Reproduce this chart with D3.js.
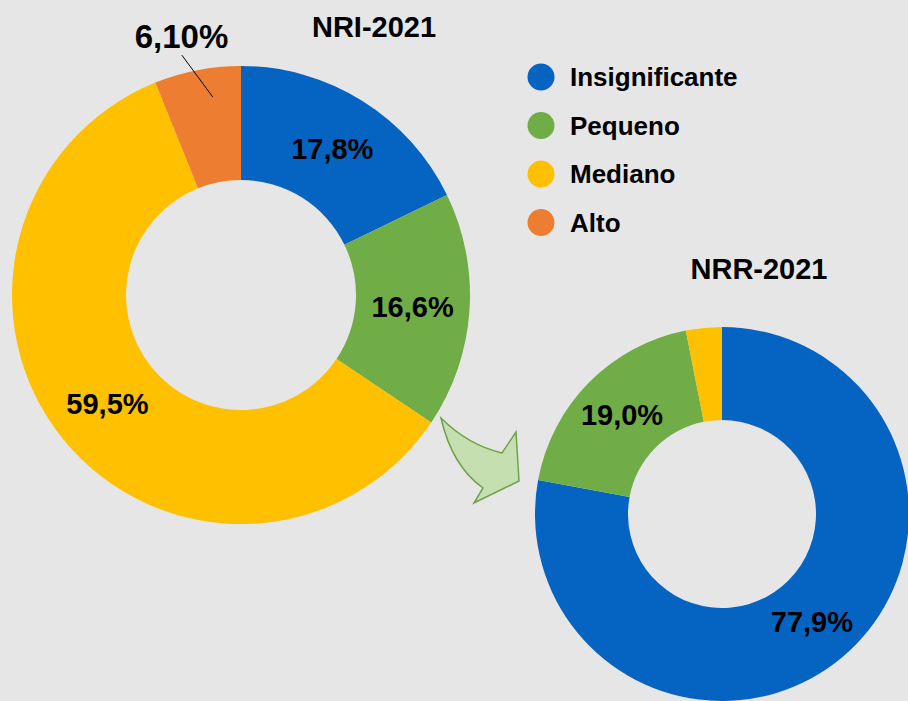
<html>
<head>
    <script src="https://d3js.org/d3.v7.min.js"></script>
</head>
<body style="margin:0; background:#e6e6e6;">

<div id="chart"></div>

<script>

// data
var categories = ["Insignificante", "Pequeno", "Mediano", "Alto"];
var nriValues = [17.8, 16.6, 59.5, 6.1];
var nriLabels = ["17,8%", "16,6%", "59,5%", "6,10%"];
var nrrValues = [77.9, 19.0, 3.1, 0];
var nrrLabels = ["77,9%", "19,0%", "", ""];
var titles = ["NRI-2021", "NRR-2021"];

var width = 908, height = 701;

var color = d3.scaleOrdinal()
    .domain(categories)
    .range(["#0563c1", "#70ad47", "#ffc000", "#ed7d31"]);

var svg = d3.select("#chart")
    .append("svg")
    .attr("width", width)
    .attr("height", height)
    .style("font-family", "Liberation Sans, Arial, sans-serif");

svg.append("rect")
    .attr("width", width)
    .attr("height", height)
    .attr("fill", "#e6e6e6");

var pie = d3.pie().sort(null).value(function(d) { return d; });

function donut(values, labels, cx, cy, outer, inner) {
    var g = svg.append("g")
        .attr("transform", "translate(" + cx + "," + cy + ")");
    var arc = d3.arc().innerRadius(inner).outerRadius(outer);
    var arcs = pie(values);

    g.selectAll("path")
        .data(arcs)
        .enter()
        .append("path")
        .attr("d", arc)
        .attr("fill", function(d, i) { return color(categories[i]); });

    g.selectAll("text")
        .data(arcs)
        .enter()
        .filter(function(d, i) { return labels[i] !== "" && d.value >= 10; })
        .append("text")
        .attr("transform", function(d) { return "translate(" + arc.centroid(d) + ")"; })
        .attr("dy", "0.35em")
        .attr("text-anchor", "middle")
        .style("font-size", "29px")
        .style("font-weight", "bold")
        .text(function(d) { return labels[d.index]; });

    return {g: g, arcs: arcs};
}

var nri = donut(nriValues, nriLabels, 241, 295, 229, 115);
var nrr = donut(nrrValues, nrrLabels, 722, 514, 187, 94);

// small slice label with leader line (Alto, NRI)
var alto = nri.arcs[3];
var a = (alto.startAngle + alto.endAngle) / 2;
var a2 = a - 0.035;
nri.g.append("line")
    .attr("x1", Math.sin(a - 0.05) * 247).attr("y1", -Math.cos(a - 0.05) * 247)
    .attr("x2", Math.sin(a + 0.05) * 200).attr("y2", -Math.cos(a + 0.05) * 200)
    .attr("stroke", "#000")
    .attr("stroke-width", 1);
nri.g.append("text")
    .attr("x", Math.sin(a2) * 265)
    .attr("y", -Math.cos(a2) * 265)
    .attr("dy", "0.35em")
    .attr("text-anchor", "middle")
    .style("font-size", "33px")
    .style("font-weight", "bold")
    .text(nriLabels[3]);

// titles
svg.append("text")
    .attr("x", 374).attr("y", 37)
    .attr("text-anchor", "middle")
    .style("font-size", "29px")
    .style("font-weight", "bold")
    .text(titles[0]);
svg.append("text")
    .attr("x", 759).attr("y", 279)
    .attr("text-anchor", "middle")
    .style("font-size", "29px")
    .style("font-weight", "bold")
    .text(titles[1]);

// legend
var legend = svg.append("g")
    .selectAll("g")
    .data(categories)
    .enter()
    .append("g")
    .attr("transform", function(d, i) { return "translate(541," + (77 + i * 48.5) + ")"; });
legend.append("circle")
    .attr("r", 13.5)
    .attr("fill", function(d) { return color(d); });
legend.append("text")
    .attr("x", 29)
    .attr("dy", "0.35em")
    .style("font-size", "26px")
    .style("font-weight", "bold")
    .text(function(d) { return d; });

// arrow between the two donuts
svg.append("path")
    .attr("d", "M441,418 Q468,445 502,453 L516,432 L519,481 L474,503 L483,488 Q452,466 441,418 Z")
    .attr("fill", "#c5dfb0")
    .attr("stroke", "#6fa14a")
    .attr("stroke-width", 1.5)
    .attr("stroke-linejoin", "miter");

</script>

</body>
</html>
